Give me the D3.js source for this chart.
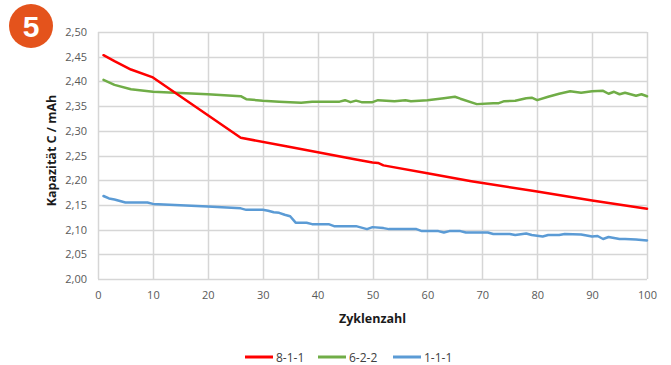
<!DOCTYPE html>
<html><head><meta charset="utf-8">
<script src="https://cdn.jsdelivr.net/npm/d3@7"></script>
<style>
html,body{margin:0;padding:0;background:#fff;}
svg{display:block;}
</style></head>
<body>
<svg id="chart" width="671" height="365"></svg>
<script>
// ---- data ----
const seriesNames = ["8-1-1", "6-2-2", "1-1-1"];
const seriesColors = ["#ff0000", "#70ad47", "#5b9bd5"];

const cyclesRed = [1, 3, 6, 10, 26, 35, 47, 50, 51, 52, 60, 68, 80, 90, 100];
const valuesRed = [2.453, 2.441, 2.424, 2.408, 2.286, 2.267, 2.242, 2.236, 2.235, 2.230, 2.214, 2.198, 2.177, 2.159, 2.142];

const cyclesGreen = [1, 3, 6, 10, 20, 26, 27, 30, 33, 37, 39, 42, 44, 45, 46, 47, 48, 50, 51, 54, 56, 57, 60, 63, 65, 66, 69, 72, 73, 74, 76, 78, 79, 80, 82, 84, 86, 88, 90, 92, 93, 94, 95, 96, 98, 99, 100];
const valuesGreen = [2.403, 2.393, 2.384, 2.379, 2.374, 2.370, 2.364, 2.361, 2.359, 2.357, 2.359, 2.359, 2.359, 2.362, 2.358, 2.361, 2.358, 2.358, 2.362, 2.360, 2.362, 2.360, 2.362, 2.366, 2.369, 2.365, 2.354, 2.356, 2.356, 2.360, 2.361, 2.366, 2.367, 2.362, 2.369, 2.375, 2.380, 2.377, 2.380, 2.381, 2.375, 2.379, 2.374, 2.377, 2.371, 2.374, 2.370];

const cyclesBlue = [1, 2, 3, 5, 9, 10, 20, 26, 27, 30, 31, 32, 33, 34, 35, 36, 38, 39, 42, 43, 47, 49, 50, 52, 53, 58, 59, 62, 63, 64, 66, 67, 71, 72, 75, 76, 78, 79, 81, 82, 84, 85, 88, 90, 91, 92, 93, 95, 96, 98, 100];
const valuesBlue = [2.168, 2.163, 2.161, 2.155, 2.155, 2.152, 2.147, 2.143, 2.140, 2.140, 2.138, 2.135, 2.134, 2.130, 2.127, 2.114, 2.114, 2.111, 2.111, 2.107, 2.107, 2.101, 2.105, 2.103, 2.101, 2.101, 2.097, 2.097, 2.094, 2.097, 2.097, 2.094, 2.094, 2.091, 2.091, 2.089, 2.092, 2.089, 2.086, 2.089, 2.089, 2.091, 2.090, 2.086, 2.087, 2.081, 2.085, 2.081, 2.081, 2.080, 2.078];

const xTicks = [0, 10, 20, 30, 40, 50, 60, 70, 80, 90, 100];
const yTicks = [2.00, 2.05, 2.10, 2.15, 2.20, 2.25, 2.30, 2.35, 2.40, 2.45, 2.50];
const xTitle = "Zyklenzahl";
const yTitle = "Kapazität C / mAh";
const badgeText = "5";

// ---- layout ----
const svg = d3.select("#chart");
const pLeft = 98, pRight = 647, pTop = 32, pBottom = 279;
const x = d3.scaleLinear().domain([0, 100]).range([pLeft, pRight]);
const y = d3.scaleLinear().domain([2.0, 2.5]).range([pBottom, pTop]);
const tickFont = "'Open Sans', 'Liberation Sans', sans-serif";

// gridlines
const grid = svg.append("g");
grid.selectAll("line.h").data(yTicks).enter().append("line")
  .attr("x1", pLeft).attr("x2", pRight)
  .attr("y1", d => Math.round(y(d)) + 0.5).attr("y2", d => Math.round(y(d)) + 0.5)
  .attr("stroke", "#d6d6d6").attr("stroke-width", 1.5);
grid.selectAll("line.v").data(xTicks).enter().append("line")
  .attr("y1", pTop).attr("y2", pBottom)
  .attr("x1", d => Math.round(x(d)) + 0.5).attr("x2", d => Math.round(x(d)) + 0.5)
  .attr("stroke", "#d6d6d6").attr("stroke-width", 1.5);

// axes (labels only)
const yAxis = d3.axisLeft(y).tickValues(yTicks).tickSize(0).tickPadding(11)
  .tickFormat(d => d3.format(".2f")(d).replace(".", ","));
const gy = svg.append("g").attr("transform", `translate(${pLeft},0)`).call(yAxis);
gy.select(".domain").remove();
gy.selectAll("text").attr("font-family", tickFont).attr("font-size", "11px").attr("fill", "#595959");

const xAxis = d3.axisBottom(x).tickValues(xTicks).tickSize(0).tickPadding(12);
const gx = svg.append("g").attr("transform", `translate(0,${pBottom})`).call(xAxis);
gx.select(".domain").remove();
gx.selectAll("text").attr("font-family", tickFont).attr("font-size", "11px").attr("fill", "#595959");

// series
const series = [
  {name: seriesNames[0], color: seriesColors[0], xs: cyclesRed, ys: valuesRed},
  {name: seriesNames[1], color: seriesColors[1], xs: cyclesGreen, ys: valuesGreen},
  {name: seriesNames[2], color: seriesColors[2], xs: cyclesBlue, ys: valuesBlue}
];
const line = d3.line().x(d => x(d[0])).y(d => y(d[1]));
series.slice().reverse().forEach(s => {
  svg.append("path")
    .datum(d3.zip(s.xs, s.ys))
    .attr("d", line)
    .attr("fill", "none")
    .attr("stroke", s.color)
    .attr("stroke-width", 2.5)
    .attr("stroke-linejoin", "round")
    .attr("stroke-linecap", "round");
});

// titles
svg.append("text")
  .attr("transform", `translate(56,${(pTop + pBottom) / 2 - 5}) rotate(-90)`)
  .attr("text-anchor", "middle")
  .attr("font-family", tickFont).attr("font-weight", "bold").attr("font-size", "12.5px")
  .attr("fill", "#1a1a1a")
  .text(yTitle);
svg.append("text")
  .attr("x", (pLeft + pRight) / 2).attr("y", 323)
  .attr("text-anchor", "middle")
  .attr("font-family", tickFont).attr("font-weight", "bold").attr("font-size", "12.5px")
  .attr("fill", "#1a1a1a")
  .text(xTitle);

// legend
const legendX = [245, 318, 393];
series.forEach((s, i) => {
  const g = svg.append("g").attr("transform", `translate(${legendX[i]},357)`);
  g.append("line").attr("x1", 0).attr("x2", 28).attr("y1", 0).attr("y2", 0)
    .attr("stroke", s.color).attr("stroke-width", 3);
  g.append("text").attr("x", 31).attr("y", 4.5)
    .attr("font-family", tickFont).attr("font-size", "12px").attr("fill", "#404040")
    .text(s.name);
});

// badge
svg.append("circle").attr("cx", 31).attr("cy", 26).attr("r", 22).attr("fill", "#e4531c");
svg.append("text").attr("x", 31).attr("y", 37)
  .attr("text-anchor", "middle")
  .attr("font-family", "'Liberation Sans', Arial, sans-serif").attr("font-weight", "bold")
  .attr("font-size", "30px").attr("fill", "#fff")
  .text(badgeText);
</script>
</body></html>
